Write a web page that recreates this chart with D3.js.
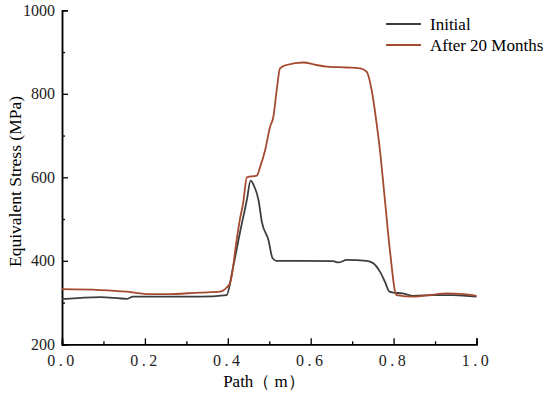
<!doctype html>
<html lang="en">
<head>
  <meta name="viewport" content="width=device-width, initial-scale=1.0">
  <style>
    body { margin: 0; background: #fff; }
  </style>
</head>
<body>
  <script src="https://d3js.org/d3.v7.min.js"></script>
  <div id="chart"></div>
  <script>
  // data
  var initialX = [0, 0.092, 0.157, 0.171, 0.333, 0.397, 0.413, 0.429, 0.446, 0.455, 0.463, 0.474, 0.482, 0.498, 0.508, 0.518, 0.574, 0.654, 0.667, 0.687, 0.735, 0.751, 0.767, 0.779, 0.790, 0.799, 0.822, 0.848, 0.896, 0.944, 1.0];
  var initialY = [308, 313, 309, 314, 314, 318, 386, 466, 546, 592, 580, 546, 494, 450, 406, 400, 400, 399, 396, 402, 400, 394, 374, 350, 326, 324, 322, 316, 318, 318, 314];

  var agedX = [0, 0.092, 0.157, 0.212, 0.253, 0.333, 0.381, 0.397, 0.405, 0.413, 0.417, 0.429, 0.437, 0.446, 0.470, 0.478, 0.490, 0.502, 0.510, 0.518, 0.526, 0.542, 0.582, 0.614, 0.639, 0.687, 0.719, 0.735, 0.747, 0.759, 0.767, 0.779, 0.791, 0.807, 0.848, 0.888, 0.928, 0.968, 1.0];
  var agedY = [332, 330, 326, 320, 320, 324, 326, 336, 346, 386, 418, 498, 538, 600, 604, 625, 665, 721, 745, 809, 861, 869, 875, 869, 865, 863, 861, 853, 809, 729, 665, 546, 426, 318, 314, 318, 322, 320, 316];

  var seriesNames = ["Initial", "After 20 Months"];
  var seriesColors = ["#3d3d3d", "#a44a2f"];
  var xTicks = [0, 0.2, 0.4, 0.6, 0.8, 1.0];
  var yTicks = [200, 400, 600, 800, 1000];

  var serif = "'Liberation Serif', 'Times New Roman', serif";
  var width = 550, height = 393;
  var margin = {top: 10.3, right: 73.5, bottom: 48.7, left: 62};

  var svg = d3.select("#chart")
      .append("svg")
      .attr("width", width)
      .attr("height", height)
      .style("font-family", serif);

  var x = d3.scaleLinear()
      .domain([0, 1])
      .range([margin.left, width - margin.right]);

  var y = d3.scaleLinear()
      .domain([200, 1000])
      .range([height - margin.bottom, margin.top]);

  // x axis
  var xAxis = svg.append("g")
      .attr("transform", "translate(0," + y(200) + ")")
      .call(d3.axisBottom(x).tickValues(xTicks).tickSize(-6).tickFormat(function (d) { return d.toFixed(1); }));
  xAxis.append("g").call(d3.axisBottom(x).tickValues([0.1, 0.3, 0.5, 0.7, 0.9]).tickSize(-3).tickFormat(""));
  xAxis.attr("font-family", serif);
  xAxis.selectAll("text")
      .attr("dy", "1.15em")
      .style("font-family", serif)
      .style("font-size", "16px")
      .style("letter-spacing", "3.5px")
      .attr("fill", "#222");

  // y axis
  var yAxis = svg.append("g")
      .attr("transform", "translate(" + x(0) + ",0)")
      .call(d3.axisLeft(y).tickValues(yTicks).tickSize(-6).tickFormat(d3.format("d")));
  yAxis.append("g").call(d3.axisLeft(y).tickValues([300, 500, 700, 900]).tickSize(-3).tickFormat(""));
  yAxis.attr("font-family", serif);
  yAxis.selectAll("text")
      .attr("x", -7)
      .style("font-family", serif)
      .style("font-size", "16px")
      .attr("fill", "#222");

  svg.selectAll(".domain").attr("stroke", "#000").attr("stroke-width", 1.5);
  svg.selectAll(".tick line").attr("stroke", "#000").attr("stroke-width", 1.3);

  // axis titles
  svg.append("text")
     .attr("text-anchor", "middle")
     .attr("x", 264)
     .attr("y", 387)
     .style("font-family", serif)
     .style("font-size", "17px")
     .text("Path（ m）");

  svg.append("text")
     .attr("text-anchor", "middle")
     .attr("transform", "translate(21," + y(590) + ") rotate(-90)")
     .style("font-family", serif)
     .style("font-size", "17.5px")
     .text("Equivalent Stress (MPa)");

  // lines
  var line = d3.line()
      .x(function (d) { return x(d[0]); })
      .y(function (d) { return y(d[1]); })
      .curve(d3.curveMonotoneX);

  var series = [d3.zip(initialX, initialY), d3.zip(agedX, agedY)];

  svg.selectAll(".series")
     .data(series)
     .enter()
     .append("path")
     .attr("class", "series")
     .attr("fill", "none")
     .attr("stroke", function (d, i) { return seriesColors[i]; })
     .attr("stroke-width", 1.8)
     .attr("d", line);

  // legend
  var legend = svg.selectAll(".legend")
      .data(seriesNames)
      .enter()
      .append("g")
      .attr("class", "legend")
      .attr("transform", function (d, i) { return "translate(386," + (24 + i * 21) + ")"; });

  legend.append("line")
        .attr("x1", 0).attr("x2", 35)
        .attr("stroke", function (d, i) { return seriesColors[i]; })
        .attr("stroke-width", 1.8);

  legend.append("text")
        .attr("x", 44)
        .attr("dy", "0.35em")
        .style("font-family", serif)
        .style("font-size", "17px")
        .text(function (d) { return d; });
  </script>
</body>
</html>
